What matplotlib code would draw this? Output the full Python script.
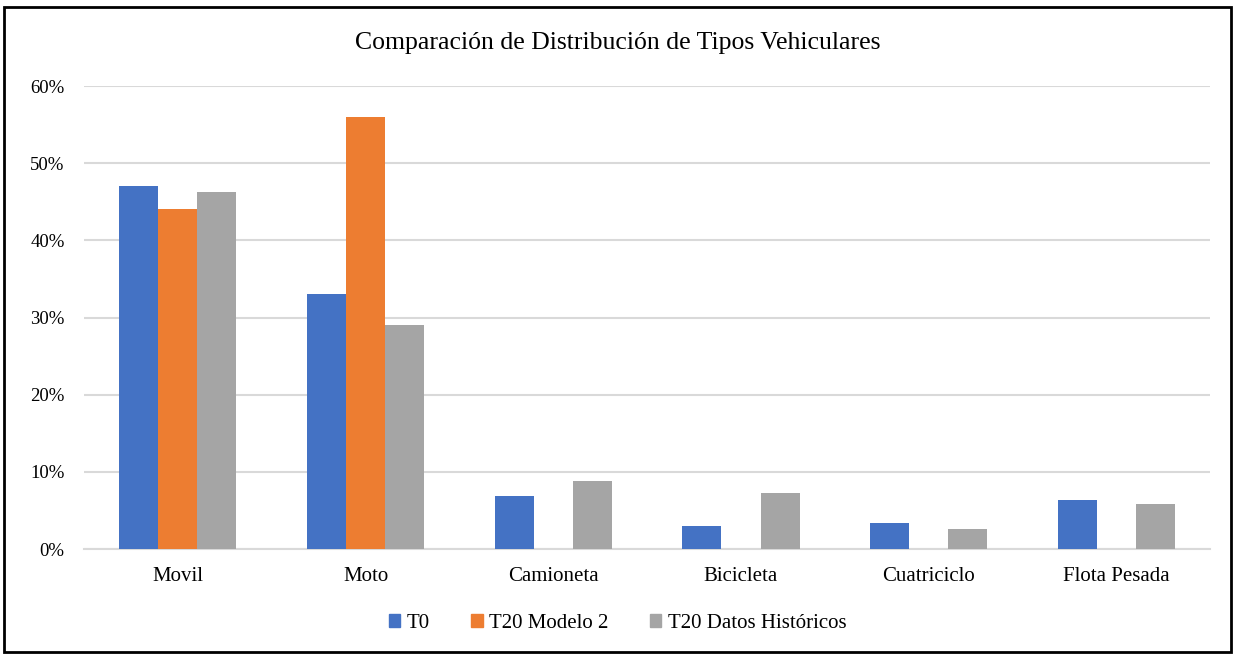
import matplotlib
matplotlib.use("Agg")
import matplotlib.pyplot as plt
from matplotlib.patches import Rectangle, Patch
from matplotlib.ticker import FuncFormatter
import numpy as np

categories = ["Movil", "Moto", "Camioneta", "Bicicleta", "Cuatriciclo", "Flota Pesada"]
t0 = [0.471, 0.330, 0.069, 0.030, 0.034, 0.063]
t20_modelo2 = [0.440, 0.560, 0.0, 0.0, 0.0, 0.0]
t20_historicos = [0.462, 0.290, 0.088, 0.072, 0.026, 0.058]
series_names = ["T0", "T20 Modelo 2", "T20 Datos Históricos"]
colors = ["#4472C4", "#ED7D31", "#A5A5A5"]

plt.rcParams['font.family'] = ['Liberation Serif', 'DejaVu Serif']

fig = plt.figure(figsize=(12.35, 6.55), dpi=100)
ax = fig.add_axes([0.068, 0.1618, 0.912, 0.7069])

x = np.arange(len(categories))
w = 0.208
for i, (vals, c, name) in enumerate(zip([t0, t20_modelo2, t20_historicos], colors, series_names)):
    ax.bar(x + (i - 1) * w, vals, width=w, color=c, label=name, zorder=3)

ax.set_xlim(-0.5, len(categories) - 0.5)
ax.set_ylim(0, 0.6)
ax.set_yticks(np.arange(0, 0.61, 0.1))
ax.yaxis.set_major_formatter(FuncFormatter(lambda v, p: f"{v*100:.0f}%"))
ax.set_xticks(x)
ax.set_xticklabels(categories, fontsize=15)
ax.tick_params(axis='y', labelsize=13.5, length=0, pad=14)
ax.tick_params(axis='x', length=0, pad=13)
ax.grid(axis='y', color='#d9d9d9', linewidth=1.5, zorder=0)
for s in ['top', 'right', 'left']:
    ax.spines[s].set_visible(False)
ax.spines['bottom'].set_color('#d9d9d9')
ax.spines['bottom'].set_linewidth(1.5)

fig.text(0.5, 0.935, "Comparación de Distribución de Tipos Vehiculares", ha='center', va='center', fontsize=18.5)

handles = [Patch(color=c) for c in colors]
fig.legend(handles, series_names, loc='center', bbox_to_anchor=(0.5, 0.048), ncol=3, frameon=False,
           fontsize=15, handlelength=0.55, handleheight=0.55, handletextpad=0.3, columnspacing=2.0)

fig.patches.append(Rectangle((0.003, 0.004), 0.994, 0.986, transform=fig.transFigure, fill=False,
                             edgecolor='black', linewidth=2))

fig.savefig("out.png", dpi=100)
